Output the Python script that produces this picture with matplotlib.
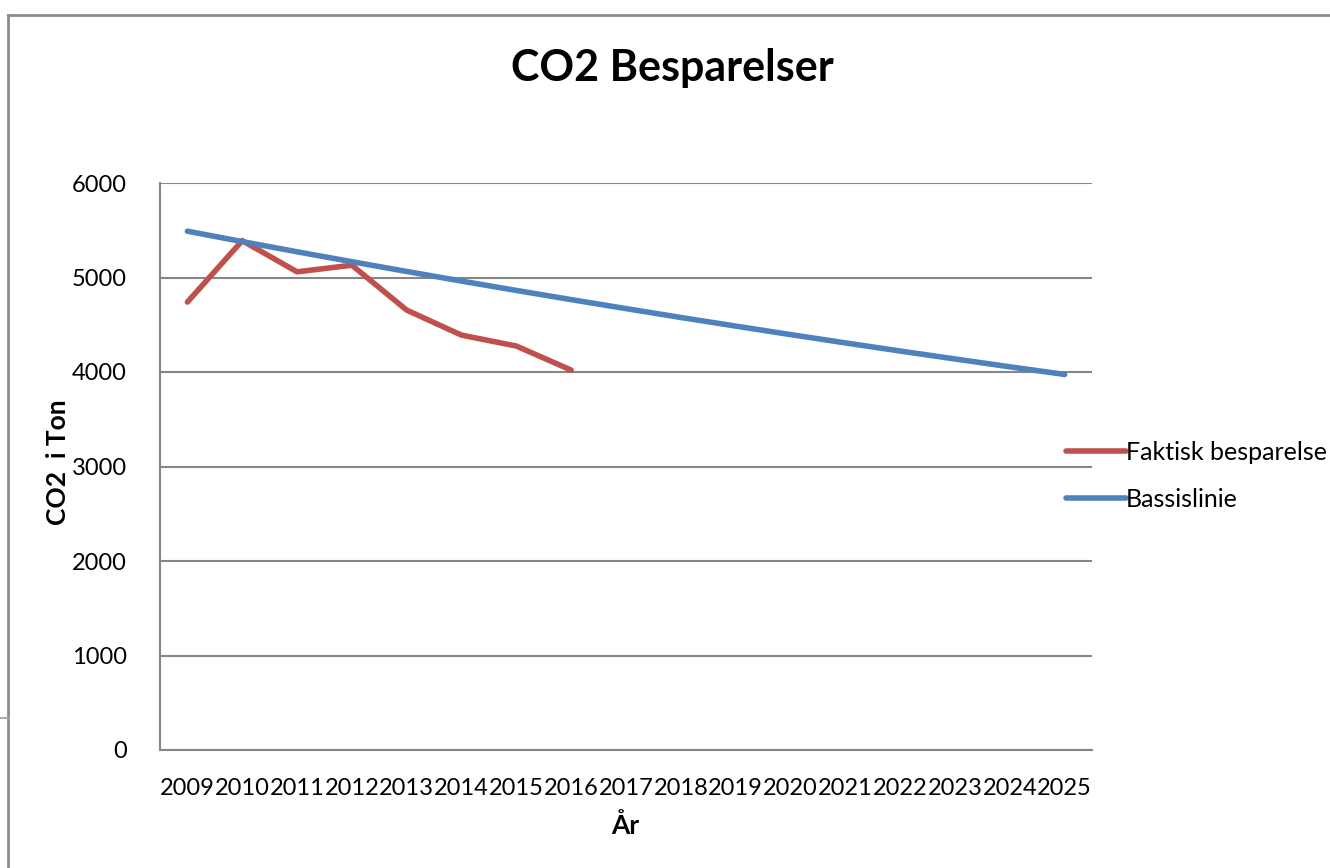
import matplotlib
matplotlib.use("Agg")
import matplotlib.pyplot as plt
from matplotlib.lines import Line2D

years = [str(y) for y in range(2009, 2026)]
faktisk = [4740, 5390, 5060, 5130, 4655, 4390, 4275, 4020]
basis = [5490, 5380, 5272, 5167, 5064, 4962, 4863, 4766, 4671, 4577,
         4486, 4396, 4308, 4222, 4138, 4055, 3974]
yticks = [0, 1000, 2000, 3000, 4000, 5000, 6000]

RED = "#C0504D"
BLUE = "#4F81BD"
GRID = "#868686"
FONT = ["Lato", "DejaVu Sans"]
plt.rcParams["font.family"] = FONT

W, H = 1330, 868
fig = plt.figure(figsize=(W / 100, H / 100), dpi=100)
ax = fig.add_axes([160 / W, 1 - 750 / H, (1092 - 160) / W, (750 - 183) / H])

x_all = list(range(len(years)))
ax.plot(x_all[:len(faktisk)], faktisk, color=RED, lw=4, solid_capstyle="round",
        solid_joinstyle="round", label="Faktisk besparelse", zorder=3)
ax.plot(x_all, basis, color=BLUE, lw=4, solid_capstyle="round",
        solid_joinstyle="round", label="Bassislinie", zorder=3)

ax.set_xlim(-0.5, len(years) - 0.5)
ax.set_ylim(0, 6000)
ax.set_yticks(yticks)
ax.set_yticklabels([str(v) for v in yticks])
ax.set_xticks(x_all)
ax.set_xticklabels(years)
ax.tick_params(axis="both", length=0, labelsize=17, colors="black")
ax.tick_params(axis="x", pad=20)
ax.tick_params(axis="y", pad=24)
ax.grid(axis="y", color=GRID, lw=1.5)
ax.set_axisbelow(True)
for s in ["top", "right"]:
    ax.spines[s].set_visible(False)
for s in ["left", "bottom"]:
    ax.spines[s].set_color(GRID)
    ax.spines[s].set_linewidth(1.5)

fig.text(672 / W, 1 - 68 / H, "CO2 Besparelser", fontsize=31, fontweight="bold",
         ha="center", va="center")
fig.text(58 / W, 1 - 462 / H, "CO2  i Ton", rotation=90, fontsize=19,
         fontweight="bold", ha="center", va="center")
fig.text(625 / W, 1 - 826 / H, "År", fontsize=19, fontweight="bold",
         ha="center", va="center")

leg = fig.legend(loc="center left", bbox_to_anchor=(1056 / W, 1 - 476 / H),
                 frameon=False, fontsize=18, handlelength=2.4, handletextpad=0.0,
                 labelspacing=0.95, borderaxespad=0)

# outer chart frame
fc = "#8c8c8c"
fig.add_artist(Line2D([8 / W, 8 / W], [0, 1 - 15 / H], color=fc, lw=2, transform=fig.transFigure))
fig.add_artist(Line2D([8 / W, 1], [1 - 15 / H, 1 - 15 / H], color=fc, lw=2, transform=fig.transFigure))
fig.add_artist(Line2D([0, 8 / W], [1 - 718 / H, 1 - 718 / H], color="#aaaaaa", lw=1.5, transform=fig.transFigure))

fig.savefig("out.png", dpi=100, facecolor="white")
